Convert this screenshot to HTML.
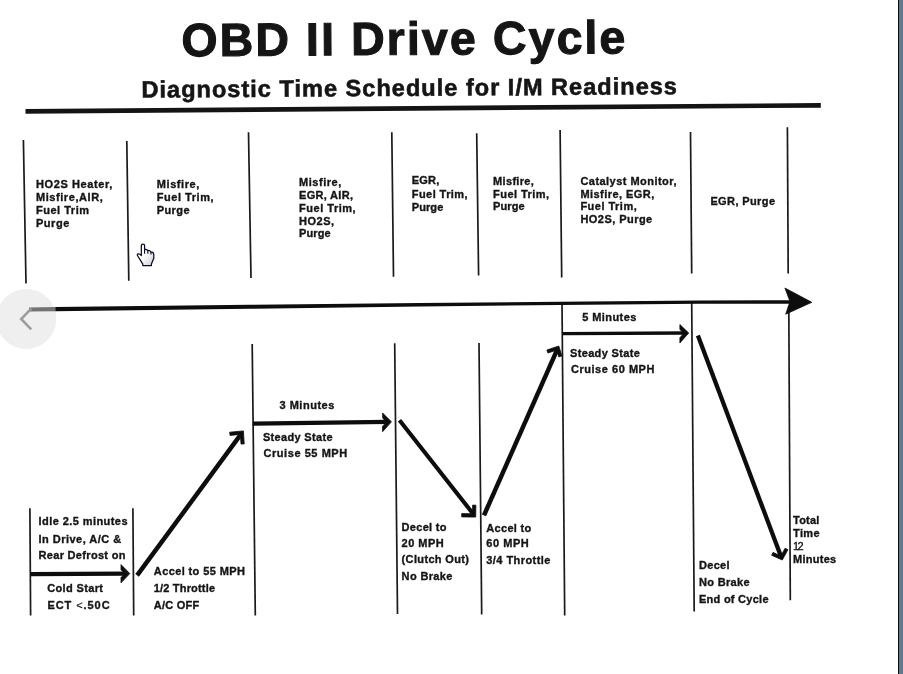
<!DOCTYPE html>
<html lang="en"><head><meta charset="utf-8"><title>OBD II Drive Cycle</title>
<style>
html,body{margin:0;padding:0;background:#fff;}
body{width:903px;height:674px;overflow:hidden;position:relative;font-family:"Liberation Sans",sans-serif;}
svg{position:absolute;left:0;top:0;display:block;}
text{font-family:"Liberation Sans",sans-serif;font-weight:bold;fill:#151515;stroke:#151515;stroke-width:0.35px;}
.s{font-size:11.0px;}
</style></head><body>
<svg width="903" height="674" viewBox="0 0 903 674">
<rect x="0" y="0" width="903" height="674" fill="#ffffff"/>

<rect x="898" y="0" width="1" height="674" fill="#050d1a"/><rect x="899" y="0" width="4" height="674" fill="#62788f"/>
<text x="181.5" y="56.2" font-size="46.5" textLength="444" lengthAdjust="spacing" transform="rotate(-0.37 181.5 56.2)" style="stroke-width:1.1px">OBD II Drive Cycle</text>
<text x="141.5" y="97.6" font-size="23.6" textLength="535.5" lengthAdjust="spacing" transform="rotate(-0.37 141.5 97.6)" style="stroke-width:0.6px">Diagnostic Time Schedule for I/M Readiness</text>
<line x1="25.5" y1="111.3" x2="820.8" y2="105.3" stroke="#141414" stroke-width="4.7"/>
<line x1="23.4" y1="140" x2="26" y2="283.5" stroke="#1a1a1a" stroke-width="1.7"/>
<line x1="126.8" y1="141" x2="128.8" y2="280.8" stroke="#1a1a1a" stroke-width="1.7"/>
<line x1="248.5" y1="132.3" x2="251" y2="278" stroke="#1a1a1a" stroke-width="1.7"/>
<line x1="391.8" y1="132.3" x2="393.5" y2="276.8" stroke="#1a1a1a" stroke-width="1.7"/>
<line x1="476.7" y1="133.2" x2="478.6" y2="275.5" stroke="#1a1a1a" stroke-width="1.7"/>
<line x1="560.1" y1="130" x2="561.7" y2="277.5" stroke="#1a1a1a" stroke-width="1.7"/>
<line x1="690.5" y1="132" x2="691.7" y2="273.5" stroke="#1a1a1a" stroke-width="1.7"/>
<line x1="787.4" y1="127.2" x2="788.2" y2="273.5" stroke="#1a1a1a" stroke-width="1.7"/>
<line x1="29.9" y1="508.2" x2="30.6" y2="615.5" stroke="#1a1a1a" stroke-width="1.7"/>
<line x1="132.9" y1="508.2" x2="133.7" y2="615.5" stroke="#1a1a1a" stroke-width="1.7"/>
<line x1="252.2" y1="344" x2="255.3" y2="615.5" stroke="#1a1a1a" stroke-width="1.7"/>
<line x1="394.7" y1="343.3" x2="397.5" y2="613.9" stroke="#1a1a1a" stroke-width="1.7"/>
<line x1="479" y1="343" x2="481.7" y2="614.6" stroke="#1a1a1a" stroke-width="1.7"/>
<line x1="562" y1="302.5" x2="564.7" y2="615.5" stroke="#1a1a1a" stroke-width="1.7"/>
<line x1="691.7" y1="302" x2="694.2" y2="611.6" stroke="#1a1a1a" stroke-width="1.7"/>
<line x1="788.8" y1="306" x2="790.3" y2="600.2" stroke="#1a1a1a" stroke-width="1.7"/>
<polygon points="55.0,307.00 250.0,304.80 420.0,303.00 560.0,301.65 700.0,300.55 792.0,300.20 792.0,303.80 700.0,303.85 560.0,304.95 420.0,306.60 250.0,308.80 55.0,311.20" fill="#0d0d0d"/>
<polygon points="811.8,302.3 784.9,288 790,301.6 785.7,314.2" fill="#0d0d0d" stroke="#0d0d0d" stroke-width="0.8" stroke-linejoin="round"/>
<line x1="30.0" y1="574.2" x2="125.8" y2="573.6" stroke="#0d0d0d" stroke-width="4.3"/><polygon points="129.8,573.6 121.0,564.6 121.0,569.8 124.8,573.6 121.0,577.6 121.0,582.8" fill="#0d0d0d" stroke="#0d0d0d" stroke-width="0.8" stroke-linejoin="round"/>
<line x1="137.1" y1="575.4" x2="241.2" y2="433.9" stroke="#0d0d0d" stroke-width="4.5"/><polygon points="243.4,430.9 229.7,432.2 230.0,435.4 240.4,434.4 241.0,444.1 244.2,443.9" fill="#0d0d0d" stroke="#0d0d0d" stroke-width="0.8" stroke-linejoin="round"/>
<line x1="252.8" y1="423.6" x2="387.4" y2="421.9" stroke="#0d0d0d" stroke-width="4.2"/><polygon points="391.4,421.8 382.6,413.0 382.7,418.2 386.5,421.9 382.5,426.4 382.6,431.7" fill="#0d0d0d" stroke="#0d0d0d" stroke-width="0.8" stroke-linejoin="round"/>
<line x1="399.5" y1="420.2" x2="473.4" y2="514.2" stroke="#0d0d0d" stroke-width="4.1"/><polygon points="475.7,517.1 461.7,516.9 461.7,513.6 472.5,513.8 472.6,505.1 475.9,505.2" fill="#0d0d0d" stroke="#0d0d0d" stroke-width="0.8" stroke-linejoin="round"/>
<line x1="484.0" y1="515.3" x2="557.3" y2="349.4" stroke="#0d0d0d" stroke-width="4.5"/><polygon points="558.8,346.0 546.9,350.0 547.9,353.0 556.7,350.1 558.8,356.9 561.9,356.0" fill="#0d0d0d" stroke="#0d0d0d" stroke-width="0.8" stroke-linejoin="round"/>
<line x1="562.2" y1="333.6" x2="684.8" y2="333.0" stroke="#0d0d0d" stroke-width="3.3"/><polygon points="688.7,333.0 679.9,324.6 679.9,329.5 683.9,333.2 679.9,337.7 679.9,343.0" fill="#0d0d0d" stroke="#0d0d0d" stroke-width="0.8" stroke-linejoin="round"/>
<line x1="697.9" y1="335.6" x2="781.1" y2="556.7" stroke="#0d0d0d" stroke-width="4.3"/><polygon points="782.3,560.0 771.7,555.3 773.0,552.4 780.9,555.9 785.1,548.2 787.9,549.7" fill="#0d0d0d" stroke="#0d0d0d" stroke-width="0.8" stroke-linejoin="round"/>
<text class="s" x="36" y="188.0" textLength="76.4" lengthAdjust="spacing">HO2S Heater,</text>
<text class="s" x="36" y="201.0" textLength="66.7" lengthAdjust="spacing">Misfire,AIR,</text>
<text class="s" x="36" y="213.8" textLength="53" lengthAdjust="spacing">Fuel Trim</text>
<text class="s" x="36" y="226.6" textLength="33.3" lengthAdjust="spacing">Purge</text>
<text class="s" x="156.8" y="187.6" textLength="42.5" lengthAdjust="spacing">Misfire,</text>
<text class="s" x="156.8" y="200.8" textLength="56.7" lengthAdjust="spacing">Fuel Trim,</text>
<text class="s" x="156.8" y="213.9" textLength="32.7" lengthAdjust="spacing">Purge</text>
<text class="s" x="299.1" y="186.2" textLength="42.2" lengthAdjust="spacing">Misfire,</text>
<text class="s" x="299.1" y="199.4" textLength="53.9" lengthAdjust="spacing">EGR, AIR,</text>
<text class="s" x="299.1" y="212.4" textLength="56.5" lengthAdjust="spacing">Fuel Trim,</text>
<text class="s" x="299.1" y="224.7" textLength="34.9" lengthAdjust="spacing">HO2S,</text>
<text class="s" x="299.1" y="237.4" textLength="31.6" lengthAdjust="spacing">Purge</text>
<text class="s" x="411.8" y="184.4" textLength="27.5" lengthAdjust="spacing">EGR,</text>
<text class="s" x="411.8" y="197.8" textLength="55.8" lengthAdjust="spacing">Fuel Trim,</text>
<text class="s" x="411.8" y="210.8" textLength="31.5" lengthAdjust="spacing">Purge</text>
<text class="s" x="493.1" y="185.0" textLength="40.7" lengthAdjust="spacing">Misfire,</text>
<text class="s" x="493.1" y="197.8" textLength="55.9" lengthAdjust="spacing">Fuel Trim,</text>
<text class="s" x="493.1" y="210.1" textLength="31.5" lengthAdjust="spacing">Purge</text>
<text class="s" x="580.4" y="185.0" textLength="96.1" lengthAdjust="spacing">Catalyst Monitor,</text>
<text class="s" x="580.4" y="197.8" textLength="73.8" lengthAdjust="spacing">Misfire, EGR,</text>
<text class="s" x="580.4" y="210.1" textLength="56.3" lengthAdjust="spacing">Fuel Trim,</text>
<text class="s" x="580.4" y="222.9" textLength="71.8" lengthAdjust="spacing">HO2S, Purge</text>
<text class="s" x="710.4" y="204.9" textLength="64.6" lengthAdjust="spacing">EGR, Purge</text>
<text class="s" x="38.5" y="525.3" textLength="89" lengthAdjust="spacing">Idle 2.5 minutes</text>
<text class="s" x="38.5" y="542.9" textLength="82.7" lengthAdjust="spacing">In Drive, A/C &amp;</text>
<text class="s" x="38.5" y="559.1" textLength="87" lengthAdjust="spacing">Rear Defrost on</text>
<text class="s" x="47.2" y="592.4" textLength="55.8" lengthAdjust="spacing">Cold Start</text>
<text class="s" x="47.5" y="609.0" textLength="62.1" lengthAdjust="spacing">ECT <tspan style="font-weight:normal;stroke-width:0.15px">&lt;</tspan>.50C</text>
<text class="s" x="153.8" y="575.2" textLength="91.1" lengthAdjust="spacing">Accel to 55 MPH</text>
<text class="s" x="153.8" y="592.2" textLength="61.2" lengthAdjust="spacing">1/2 Throttle</text>
<text class="s" x="153.8" y="608.8" textLength="45.5" lengthAdjust="spacing">A/C OFF</text>
<text class="s" x="279.5" y="409.4" textLength="54.8" lengthAdjust="spacing">3 Minutes</text>
<text class="s" x="262.9" y="441.4" textLength="69.7" lengthAdjust="spacing">Steady State</text>
<text class="s" x="263.5" y="457.3" textLength="83.7" lengthAdjust="spacing">Cruise 55 MPH</text>
<text class="s" x="401.6" y="531.1" textLength="44.8" lengthAdjust="spacing">Decel to</text>
<text class="s" x="401.6" y="546.8" textLength="42.2" lengthAdjust="spacing">20 MPH</text>
<text class="s" x="401.6" y="563.4" textLength="67.4" lengthAdjust="spacing">(Clutch Out)</text>
<text class="s" x="401.6" y="579.7" textLength="50.8" lengthAdjust="spacing">No Brake</text>
<text class="s" x="486.3" y="532.1" textLength="44.9" lengthAdjust="spacing">Accel to</text>
<text class="s" x="486.3" y="547.4" textLength="42.5" lengthAdjust="spacing">60 MPH</text>
<text class="s" x="486.3" y="564.1" textLength="64.1" lengthAdjust="spacing">3/4 Throttle</text>
<text class="s" x="582.2" y="321.2" textLength="54.1" lengthAdjust="spacing">5 Minutes</text>
<text class="s" x="570" y="356.9" textLength="69.8" lengthAdjust="spacing">Steady State</text>
<text class="s" x="571" y="372.9" textLength="83.4" lengthAdjust="spacing">Cruise 60 MPH</text>
<text class="s" x="699.0" y="568.5" textLength="30.5" lengthAdjust="spacing">Decel</text>
<text class="s" x="699.0" y="586.4" textLength="50.5" lengthAdjust="spacing">No Brake</text>
<text class="s" x="699.0" y="603.2" textLength="69.5" lengthAdjust="spacing">End of Cycle</text>
<text class="s" x="793" y="523.9" textLength="26.4" lengthAdjust="spacing">Total</text>
<text class="s" x="793" y="537.0" textLength="26.6" lengthAdjust="spacing">Time</text>
<text class="s" x="793" y="563.2" textLength="43.2" lengthAdjust="spacing">Minutes</text>
<text class="s" x="793" y="550" textLength="10.6" lengthAdjust="spacing" style="font-weight:normal">12</text>
<circle cx="26.3" cy="319" r="30" fill="#efefef"/>
<line x1="29" y1="309.5" x2="55.6" y2="309.1" stroke="#747474" stroke-width="4.2"/>
<polyline points="31.2,308.6 21.2,319 31.2,329.4" fill="none" stroke="#9d9d9d" stroke-width="2.6"/>
<defs><linearGradient id="hg" x1="0" y1="0" x2="1" y2="1"><stop offset="0.45" stop-color="#ffffff"/><stop offset="1" stop-color="#cfcfd2"/></linearGradient></defs>
<g transform="translate(125,235) scale(0.05935)">
<path d="M275 340 L275 175 Q275 152 302 152 Q330 152 330 175 L330 245 Q360 235 385 262 Q415 255 437 285 Q480 285 485 330 L485 390 L445 490 L445 515 L300 515 L300 490 L210 345 Q200 325 225 318 Q245 315 275 345 Z" fill="url(#hg)" stroke="#0a0b20" stroke-width="21" stroke-linejoin="round"/>
<path d="M330 245 L330 315 M385 262 L385 315 M437 285 L437 328" fill="none" stroke="#0a0b20" stroke-width="19"/>
</g>
</svg>
</body></html>
